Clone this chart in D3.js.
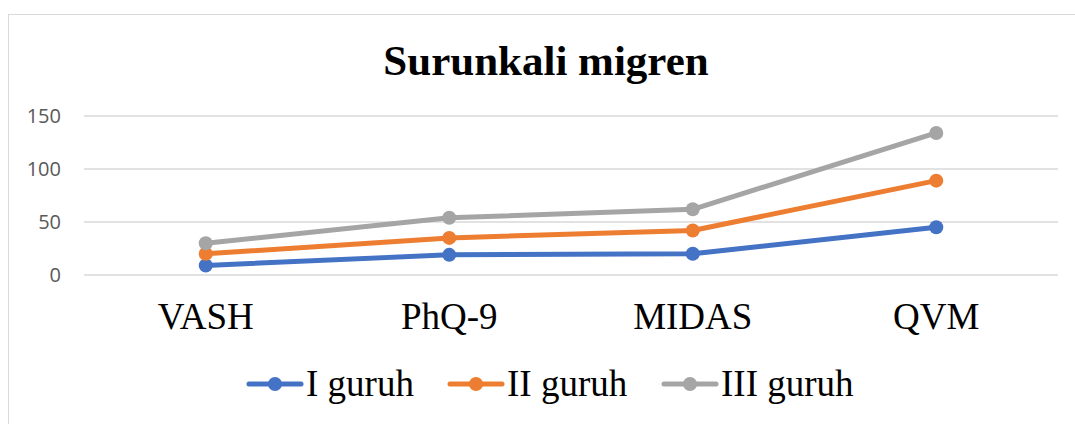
<!DOCTYPE html>
<html>
<head>
<meta charset="utf-8">
<script src="https://cdn.jsdelivr.net/npm/d3@7/dist/d3.min.js"></script>
<style>
  body { margin: 0; background: #fff; }
  svg { display: block; }
</style>
</head>
<body>
<script>
// data
var categories = ['VASH', 'PhQ-9', 'MIDAS', 'QVM'];
var seriesNames = ['I guruh', 'II guruh', 'III guruh'];
var group1 = [9, 19, 20, 45];
var group2 = [20, 35, 42, 89];
var group3 = [30, 54, 62, 134];
var yTicks = [0, 50, 100, 150];
var colors = ['#4472c4', '#ed7d31', '#a5a5a5'];

var width = 1075, height = 424;
var series = [group1, group2, group3];
var serif = '"Liberation Serif", "Times New Roman", serif';

var svg = d3.select('body').append('svg').attr('width', width).attr('height', height);

// chart frame
svg.append('rect').attr('x', 8.5).attr('y', 14.5).attr('width', 1080).attr('height', 420)
   .attr('fill', '#fff').attr('stroke', '#d9d9d9').attr('stroke-width', 1);

svg.append('text').attr('x', 546).attr('y', 75).attr('text-anchor', 'middle')
   .style('font-family', serif)
   .style('font-weight', 'bold').style('font-size', '43px')
   .text('Surunkali migren');

var x = d3.scaleBand().domain(categories).range([84, 1058]);
var y = d3.scaleLinear().domain([0, 150]).range([275, 116]);

// gridlines
svg.append('g').selectAll('line').data(yTicks).enter().append('line')
   .attr('x1', 84).attr('x2', 1058)
   .attr('y1', d => y(d)).attr('y2', d => y(d))
   .attr('stroke', '#d9d9d9').attr('stroke-width', 1.5);

var yAxis = svg.append('g').attr('transform', 'translate(84,0)')
   .call(d3.axisLeft(y).tickValues(yTicks).tickSize(0).tickPadding(23));
yAxis.select('.domain').remove();
yAxis.selectAll('text').style('font-family', '"Open Sans", "Liberation Sans", sans-serif')
   .style('font-size', '20px').attr('fill', '#595959');

var xAxis = svg.append('g').attr('transform', 'translate(0,275)')
   .call(d3.axisBottom(x).tickSize(0).tickPadding(28));
xAxis.select('.domain').remove();
xAxis.selectAll('text').style('font-family', serif)
   .style('font-size', '37px').attr('fill', '#000');

var line = d3.line()
   .x((d, i) => x(categories[i]) + x.bandwidth() / 2)
   .y(d => y(d));

series.forEach(function(s, k) {
    svg.append('path').datum(s).attr('d', line)
       .attr('fill', 'none').attr('stroke', colors[k]).attr('stroke-width', 5)
       .attr('stroke-linejoin', 'round').attr('stroke-linecap', 'round');
    svg.append('g').selectAll('circle').data(s).enter().append('circle')
       .attr('cx', (d, i) => x(categories[i]) + x.bandwidth() / 2)
       .attr('cy', d => y(d))
       .attr('r', 7).attr('fill', colors[k]);
});

// legend
var legendX = [247, 448, 662];
var leg = svg.append('g').selectAll('g').data(seriesNames).enter().append('g')
   .attr('transform', (d, i) => 'translate(' + legendX[i] + ',384)');
leg.append('line').attr('x1', 2).attr('x2', 54).attr('y1', 0).attr('y2', 0)
   .attr('stroke', (d, i) => colors[i]).attr('stroke-width', 5).attr('stroke-linecap', 'round');
leg.append('circle').attr('cx', 28).attr('cy', 0).attr('r', 7).attr('fill', (d, i) => colors[i]);
leg.append('text').attr('x', 59).attr('y', 12)
   .style('font-family', serif)
   .style('font-size', '37px').attr('fill', '#000')
   .text(d => d);
</script>
</body>
</html>
